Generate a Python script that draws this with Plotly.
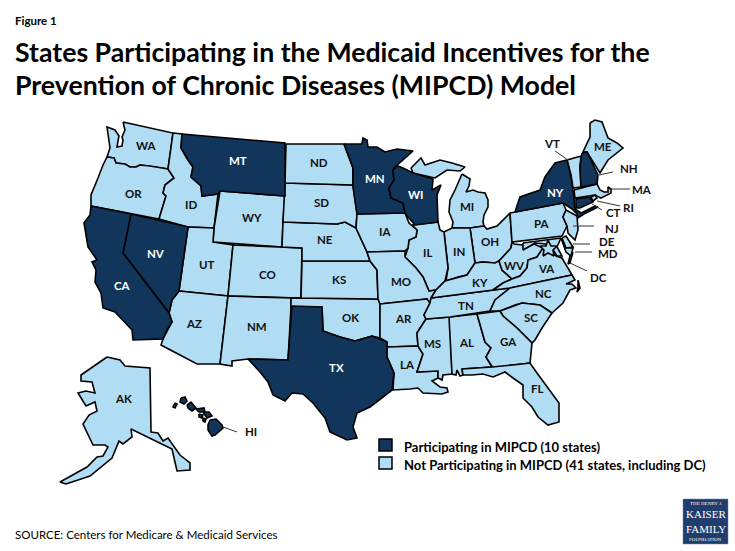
import plotly.graph_objects as go

# The US topojson comes from a CDN and there is no network here, so the state
# outlines are traced off the picture (x, y in picture pixels, y downwards).
WA = [(123,122),(173,133),(168,169),(150,166),(140,165),(136,167),(130,167),(125,164),(116,163),(114,158),(107,157),(110,148),(107,127),(115,130),(119,136),(118,141),(117,147),(122,146),(123,140),(122,137),(125,130)]
OR = [(107,157),(114,158),(116,163),(125,164),(130,167),(136,167),(140,165),(150,166),(168,169),(174,178),(165,185),(163,193),(166,196),(159,219),(91,206),(91,195),(98,178),(103,165)]
ID = [(173,133),(182,134),(181,148),(188,160),(193,167),(191,177),(201,186),(202,196),(218,194),(214,228),(188,227),(159,219),(166,196),(163,193),(165,185),(174,178),(168,169)]
MT = [(182,134),(230,138),(285,143),(285,196),(220,191),(218,194),(202,196),(201,186),(191,177),(193,167),(188,160),(181,148)]
WY = [(220,191),(285,196),(283,222),(282,247),(213,242),(214,228)]
NV = [(131,214),(188,227),(179,291),(172,300),(169,313),(123,253)]
CA = [(91,206),(131,214),(123,253),(169,313),(172,322),(167,330),(163,339),(133,340),(132,330),(123,320),(115,312),(103,308),(101,293),(95,282),(96,270),(92,262),(97,260),(88,247),(84,223),(90,215)]
UT = [(188,227),(214,228),(213,242),(233,245),(228,296),(179,291)]
CO = [(233,245),(282,247),(302,248),(301,298),(228,296)]
AZ = [(179,291),(228,296),(220,364),(197,364),(161,345),(163,339),(172,322),(169,313),(172,300)]
NM = [(228,296),(291,298),(291,307),(288,360),(248,359),(232,361),(232,366),(220,364)]
TX = [(292,306),(322,307),(323,331),(340,337),(355,341),(372,336),(387,342),(387,357),(394,373),(392,390),(383,397),(370,407),(357,413),(353,427),(357,438),(347,440),(330,432),(325,418),(313,403),(303,394),(292,393),(285,401),(273,395),(268,382),(260,372),(248,359),(288,360)]
OK = [(291,298),(378,299),(380,304),(380,338),(372,336),(355,341),(340,337),(323,331),(322,307),(291,307)]
KS = [(302,261),(370,261),(377,270),(378,299),(301,298)]
NE = [(283,222),(337,224),(345,222),(356,228),(367,252),(370,261),(302,261),(302,248),(282,247)]
SD = [(285,183),(353,185),(357,214),(356,228),(345,222),(337,224),(283,222)]
ND = [(286,144),(344,144),(353,168),(353,185),(285,183)]
MN = [(344,144),(362,144),(363,138),(367,140),(368,147),(377,147),(385,152),(397,149),(413,151),(395,167),(393,170),(394,180),(389,188),(391,198),(403,203),(405,213),(357,214),(353,187),(353,168)]
WI = [(393,170),(398,166),(403,168),(413,173),(433,179),(432,190),(441,185),(437,195),(438,222),(415,225),(408,217),(405,213),(403,203),(391,198),(389,188),(394,180)]
MI_UPPER = [(411,168),(421,158),(425,165),(440,160),(452,163),(465,167),(460,171),(447,170),(435,178),(413,173)]
MI_LOWER = [(462,174),(470,179),(469,186),(466,192),(473,190),(478,192),(485,193),(488,200),(488,207),(484,215),(483,222),(484,226),(470,228),(452,228),(453,222),(449,212),(450,200),(455,190)]
OH = [(470,228),(484,226),(487,229),(497,226),(510,213),(512,242),(511,248),(505,255),(499,261),(495,263),(483,262),(475,263)]
IN = [(444,232),(452,228),(470,228),(475,263),(467,275),(458,277),(446,281),(448,268)]
IL = [(412,225),(438,222),(440,230),(444,232),(448,268),(445,281),(436,290),(429,291),(423,277),(416,268),(405,257),(408,248),(409,240),(416,237),(417,230)]
IA = [(357,214),(405,213),(409,223),(417,230),(416,237),(409,240),(408,248),(405,251),(367,252),(356,228)]
MO = [(367,252),(405,251),(405,257),(416,268),(423,277),(429,291),(436,290),(431,298),(430,303),(427,303),(427,299),(380,304),(378,299),(377,270),(370,261)]
AR = [(380,304),(427,299),(430,303),(424,315),(426,319),(417,333),(418,346),(387,347),(387,342),(380,338)]
LA = [(387,347),(418,346),(423,354),(417,372),(438,371),(438,378),(432,381),(440,387),(447,388),(448,392),(442,394),(430,393),(423,393),(418,388),(410,389),(393,390),(394,373),(387,357)]
MS = [(426,319),(450,317),(452,374),(443,375),(442,380),(438,378),(438,371),(417,372),(423,354),(418,346),(417,333)]
AL = [(449,317),(477,314),(485,342),(491,348),(486,357),(492,367),(462,369),(463,375),(460,376),(457,370),(456,375),(452,374)]
TN = [(431,298),(493,290),(510,288),(495,300),(490,311),(450,317),(426,319),(424,315),(430,303)]
KY = [(475,263),(483,262),(495,263),(499,261),(502,270),(512,279),(503,283),(493,290),(431,298),(436,290),(445,281),(458,277),(467,275)]
WV = [(499,261),(511,248),(512,242),(514,244),(523,245),(524,249),(534,244),(543,248),(537,257),(528,260),(527,268),(520,276),(512,279),(502,270)]
VA = [(493,290),(503,283),(512,279),(520,276),(527,268),(528,260),(537,257),(543,248),(552,253),(556,256),(562,258),(568,268),(572,275),(510,288)]
VA_SHORE = [(573,252),(570,263),(568,264),(570,256)]
NC = [(510,288),(572,275),(575,280),(566,284),(572,284),(576,288),(570,290),(563,303),(552,313),(540,305),(522,303),(515,305),(500,311),(490,311),(495,300)]
NC_BANKS = [(578,280),(580,288),(577,292),(578,288)]
SC = [(500,311),(515,305),(522,303),(540,305),(552,313),(542,328),(535,340),(532,343),(517,328),(503,316)]
GA = [(477,314),(500,311),(503,316),(517,328),(532,343),(531,352),(530,363),(522,364),(493,368),(486,357),(491,348),(485,342)]
FL = [(462,369),(492,367),(522,364),(530,363),(537,373),(550,390),(559,403),(559,422),(548,425),(538,417),(532,407),(523,398),(523,385),(513,378),(505,372),(493,377),(483,374),(472,375),(463,375)]
NY = [(515,212),(520,197),(540,190),(545,177),(555,163),(567,160),(571,177),(574,197),(575,209),(581,213),(595,206),(598,207),(584,214),(578,218),(577,214),(572,209),(563,203)]
PA = [(510,213),(515,212),(563,203),(566,210),(563,217),(567,226),(562,236),(512,242)]
NJ = [(566,210),(577,216),(578,230),(575,240),(568,233),(567,226),(563,217)]
DE = [(562,238),(566,236),(573,247),(566,248)]
MD_WEST = [(523,243),(561,238),(557,247),(562,256),(557,256),(552,248),(545,244),(535,243),(523,250)]
MD_SHORE = [(561,238),(566,248),(573,248),(571,256),(566,252)]
DC = [(548,240),(551,246),(557,246),(553,250),(554,256),(548,253),(543,256),(544,250),(540,246),(546,246)]
ME = [(590,123),(595,120),(602,122),(608,138),(617,143),(623,148),(608,160),(600,173),(587,152),(583,152),(590,137)]
NH = [(582,153),(587,152),(598,175),(597,184),(581,187),(580,167)]
VT = [(567,160),(581,156),(580,167),(581,187),(573,188),(571,175)]
MA = [(574,190),(597,184),(600,190),(604,192),(608,192),(608,187),(611,189),(611,193),(605,196),(601,198),(595,195),(575,198)]
CT = [(576,199),(590,197),(593,202),(580,208),(576,208)]
RI = [(591,197),(595,195),(597,198),(593,201)]
AK = [(107,357),(120,360),(125,366),(150,368),(151,432),(158,433),(163,441),(168,438),(180,455),(190,463),(190,470),(177,471),(172,449),(131,429),(132,437),(123,444),(119,441),(112,458),(90,476),(66,484),(60,482),(87,467),(97,457),(103,456),(108,447),(105,445),(93,445),(83,424),(89,415),(97,411),(95,402),(86,406),(78,393),(86,391),(95,393),(92,382),(81,381),(81,375)]
HI_NIIHAU = [(175,403),(177,404),(175,408),(173,407)]
HI_KAUAI = [(181,398),(185,397),(187,401),(184,404),(180,402)]
HI_OAHU = [(187,405),(191,402),(196,408),(192,411),(188,408)]
HI_MOLOKAI = [(196,409),(204,408),(205,412),(199,412)]
HI_MAUI = [(203,412),(209,412),(212,416),(207,418)]
HI_LANAI = [(199,414),(203,415),(202,418),(199,417)]
HI_KAHOOLAWE = [(203,418),(206,419),(205,422),(203,421)]
HI_BIG = [(210,420),(216,419),(222,425),(223,428),(215,435),(212,436),(208,430),(208,425)]

state_shapes = {
    'WA': [WA], 'OR': [OR], 'ID': [ID], 'WY': [WY], 'UT': [UT], 'CO': [CO], 'AZ': [AZ], 'NM': [NM],
    'OK': [OK], 'KS': [KS], 'NE': [NE], 'SD': [SD], 'ND': [ND], 'MI': [MI_UPPER, MI_LOWER], 'OH': [OH],
    'IN': [IN], 'IL': [IL], 'IA': [IA], 'MO': [MO], 'AR': [AR], 'LA': [LA], 'MS': [MS], 'AL': [AL],
    'TN': [TN], 'KY': [KY], 'WV': [WV], 'VA': [VA, VA_SHORE], 'NC': [NC, NC_BANKS], 'SC': [SC], 'GA': [GA],
    'FL': [FL], 'PA': [PA], 'NJ': [NJ], 'DE': [DE], 'MD': [MD_WEST, MD_SHORE], 'DC': [DC], 'ME': [ME],
    'VT': [VT], 'MA': [MA], 'RI': [RI], 'AK': [AK],
    'MT': [MT], 'NV': [NV], 'CA': [CA], 'TX': [TX], 'MN': [MN], 'WI': [WI], 'NY': [NY], 'NH': [NH], 'CT': [CT],
    'HI': [HI_NIIHAU, HI_KAUAI, HI_OAHU, HI_MOLOKAI, HI_MAUI, HI_LANAI, HI_KAHOOLAWE, HI_BIG],
}
participating = ['CA', 'CT', 'HI', 'MN', 'MT', 'NV', 'NH', 'NY', 'TX', 'WI']

# state label, x, y
dark_labels = [('MT',238,160),('NV',156,253),('CA',122,285),('TX',336,367),('MN',375,178),('WI',416,194),('NY',555,192)]
light_labels = [('WA',146,145),('OR',133,193),('ID',191,204),('WY',252,217),('UT',207,264),('CO',267,274),('AZ',194,323),('NM',257,326),
                ('AK',123,398),('HI',251,431),('ND',319,162),('SD',321,202),('NE',325,239),('KS',339,279),('IA',385,231),('IL',427,252),
                ('IN',459,251),('MO',401,281),('OK',350,317),('AR',403,318),('LA',407,364),('MS',432,343),('AL',466,342),('TN',466,305),
                ('KY',480,282),('OH',490,241),('WV',514,265),('VA',546,268),('NC',543,293),('SC',531,317),('GA',508,341),('FL',537,388),
                ('PA',542,223),('MI',467,206),('ME',603,146),('VT',552,143),('NH',629,168),('MA',642,189),('RI',628,207),('CT',613,212),
                ('NJ',612,228),('DE',607,241),('MD',608,253),('DC',598,277)]
leaders = [(555,151,568,160),(613,172,585,178),(630,189,607,189),(620,206,597,201),(602,210,592,204),
           (594,226,573,226),(590,244,573,244),(592,252,575,252),(587,271,570,263),(223,427,237,432)]

DARK = '#12355b'
LIGHT = '#b0dcf4'
FONT = 'Lato'

fig = go.Figure()

for name, rings in state_shapes.items():
    xs, ys = [], []
    for ring in rings:
        xs += [p[0] for p in ring] + [ring[0][0], None]
        ys += [p[1] for p in ring] + [ring[0][1], None]
    fig.add_trace(go.Scatter(
        x=xs, y=ys, mode='lines', fill='toself',
        fillcolor=DARK if name in participating else LIGHT,
        line=dict(color='black', width=1.6),
        name=name, hoverinfo='name', showlegend=False))

for x0, y0, x1, y1 in leaders:
    fig.add_shape(type='line', x0=x0, y0=y0, x1=x1, y1=y1, line=dict(color='#333333', width=1))

for text, x, y in dark_labels:
    fig.add_annotation(x=x, y=y, text='<b>%s</b>' % text, showarrow=False, font=dict(family=FONT, size=11.5, color='white'))
for text, x, y in light_labels:
    fig.add_annotation(x=x, y=y, text='<b>%s</b>' % text, showarrow=False, font=dict(family=FONT, size=11.5, color='#111111'))

# legend
fig.add_shape(type='rect', x0=379, y0=439, x1=392, y1=451, fillcolor=DARK, line=dict(color='black', width=1.5))
fig.add_shape(type='rect', x0=379, y0=457, x1=392, y1=469, fillcolor=LIGHT, line=dict(color='black', width=1.5))
fig.add_annotation(x=402, y=447, xanchor='left', showarrow=False, text='<b>Participating in MIPCD (10 states)</b>',
                   font=dict(family=FONT, size=13, color='black'))
fig.add_annotation(x=402, y=465, xanchor='left', showarrow=False, text='<b>Not Participating in MIPCD (41 states, including DC)</b>',
                   font=dict(family=FONT, size=13, color='black'))

# title block
fig.add_annotation(x=13, y=20, xanchor='left', showarrow=False, text='<b>Figure 1</b>',
                   font=dict(family=FONT, size=11.5, color='black'))
fig.add_annotation(x=13, y=52, xanchor='left', showarrow=False, text='<b>States Participating in the Medicaid Incentives for the</b>',
                   font=dict(family=FONT, size=26.7, color='black'))
fig.add_annotation(x=13, y=85, xanchor='left', showarrow=False, text='<b>Prevention of Chronic Diseases (MIPCD) Model</b>',
                   font=dict(family=FONT, size=26.7, color='black'))
fig.add_annotation(x=13, y=534, xanchor='left', showarrow=False, text='SOURCE: Centers for Medicare &amp; Medicaid Services',
                   font=dict(family=FONT, size=11.5, color='black'))

# logo
fig.add_shape(type='rect', x0=683, y0=499, x1=728, y1=544, fillcolor='#1f3e6e', line=dict(color='#6f86a8', width=0.5))
for text, y, size in [('THE HENRY J.', 503.5, 5), ('KAISER', 514, 11), ('FAMILY', 528.5, 11), ('FOUNDATION', 539.5, 5)]:
    fig.add_annotation(x=705.5, y=y, text=text, showarrow=False, borderpad=0, font=dict(family='Liberation Serif', size=size, color='white'))

fig.update_xaxes(range=[0, 735], visible=False, fixedrange=True)
fig.update_yaxes(range=[551, 0], visible=False, fixedrange=True)
fig.update_layout(width=735, height=551, margin=dict(l=0, r=0, t=0, b=0),
                  paper_bgcolor='white', plot_bgcolor='white', showlegend=False)

# page default margin would push the figure 8px off
fig.write_html("out.html", config={'displayModeBar': False}, post_script="document.body.style.margin='0';")
